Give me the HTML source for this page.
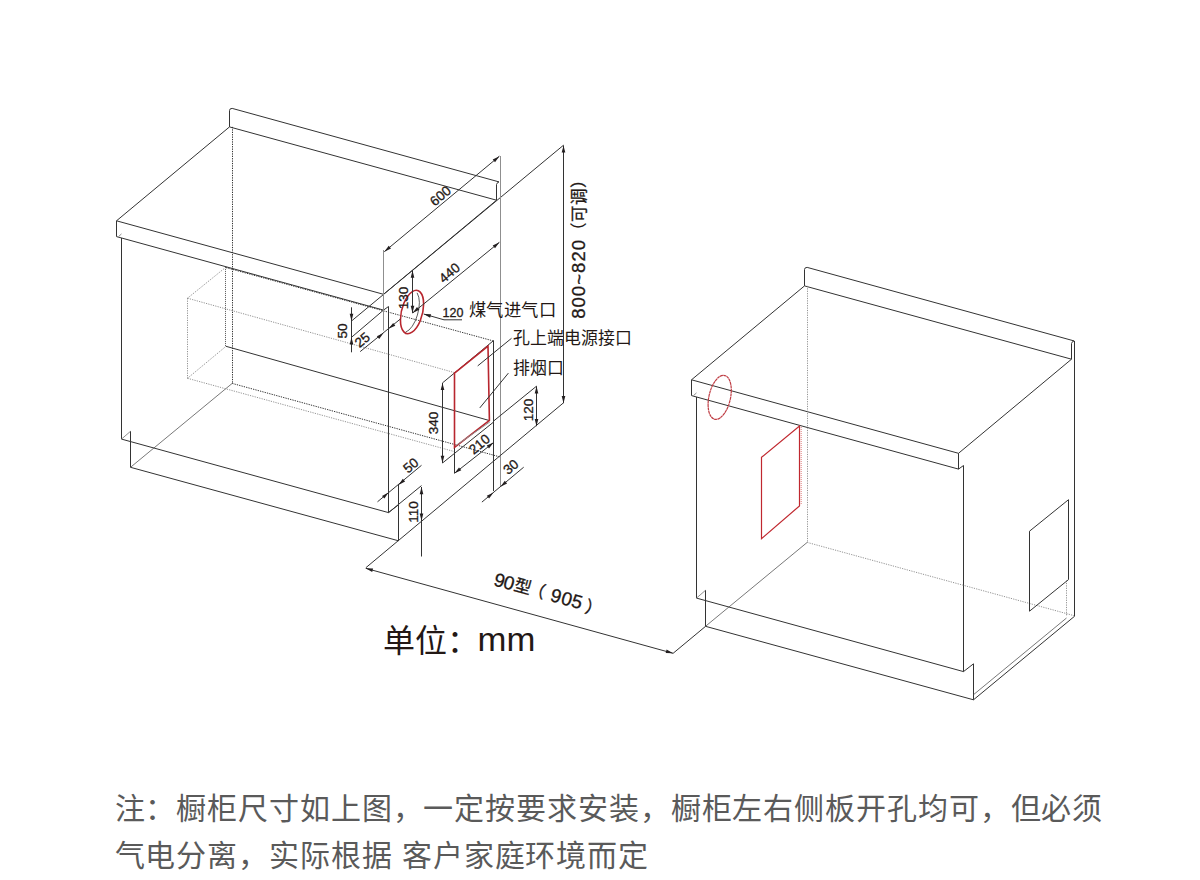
<!DOCTYPE html>
<html lang="zh-CN"><head><meta charset="utf-8"><style>
html,body{margin:0;padding:0;background:#fff;}
body{width:1200px;height:880px;overflow:hidden;position:relative;font-family:"Liberation Sans",sans-serif;}
svg{position:absolute;left:0;top:0;}
.k{stroke:#333;stroke-width:1;fill:none;}
.g{stroke:#8f8f8f;stroke-width:1;fill:none;}
.gl{stroke:#555;stroke-width:0.8;fill:none;}
.dd{stroke:#333;stroke-width:1;fill:none;stroke-dasharray:1.3 1.1;}
.ld{stroke:#777;stroke-width:0.8;fill:none;stroke-dasharray:1.2 1.2;}
.r{stroke:#b8262e;stroke-width:1.6;fill:none;}
.rd{stroke:#e08080;stroke-width:1;fill:none;stroke-dasharray:1 1;}
.rdd{stroke:#bf3d44;stroke-width:1.2;fill:none;stroke-dasharray:3 0.4;}
.r2{stroke:#c0282f;stroke-width:1.2;fill:none;}
.ldk{stroke:#555;stroke-width:1;fill:none;stroke-dasharray:1 1;}
.ah{fill:#231f20;stroke:none;}
text{font-family:"Liberation Sans",sans-serif;fill:#231815;}
.dt{stroke:#231815;stroke-width:0.3;}
.lb{fill:#231815;}
.big{fill:#231815;}
.note{position:absolute;left:114.5px;font-size:30px;color:#5a5a5a;white-space:nowrap;letter-spacing:0.9px;line-height:1;}
</style></head><body>
<svg width="1200" height="880" viewBox="0 0 1200 880">
<line class="k" x1="116.5" y1="220.8" x2="229.5" y2="126.9"/>
<line class="k" x1="116.5" y1="220.8" x2="383.5" y2="294.3"/>
<line class="k" x1="116.5" y1="236.6" x2="383.5" y2="310.1"/>
<line class="k" x1="116.5" y1="220.8" x2="116.5" y2="236.6"/>
<line class="k" x1="383.5" y1="294.3" x2="383.5" y2="310.1"/>
<line class="k" x1="229.5" y1="126.9" x2="496.5" y2="200.2"/>
<path class="k" d="M229.5,126.9 L229.5,110.6 Q229.5,108.3 232.2,108.4 L499.0,181.9"/>
<path class="k" d="M496.5,200.2 L496.5,184.5 Q497.2,182.2 499.0,181.9"/>
<line class="k" x1="383.5" y1="294.3" x2="496.5" y2="200.2"/>
<line class="k" x1="121.5" y1="238.0" x2="121.5" y2="439.1"/>
<line class="k" x1="388.5" y1="306.5" x2="388.5" y2="512.6"/>
<line class="k" x1="383.5" y1="310.1" x2="388.5" y2="306.5"/>
<line class="k" x1="121.5" y1="439.1" x2="388.5" y2="512.6"/>
<line class="g" x1="118.5" y1="236.6" x2="121.5" y2="233.9"/>
<line class="g" x1="121.5" y1="439.1" x2="130.5" y2="431.3"/>
<line class="k" x1="130.5" y1="431.3" x2="130.5" y2="467.3"/>
<line class="k" x1="388.5" y1="512.6" x2="398.5" y2="504.8"/>
<line class="k" x1="398.5" y1="504.8" x2="398.5" y2="540.8"/>
<line class="k" x1="130.5" y1="467.3" x2="398.5" y2="540.8"/>
<line class="gl" x1="130.5" y1="467.3" x2="232.2" y2="383.4"/>
<line class="dd" x1="232.5" y1="126.9" x2="232.5" y2="383.4"/>
<line class="dd" x1="232.2" y1="383.4" x2="499.5" y2="456.8"/>
<line class="k" x1="691.5" y1="379.8" x2="804.5" y2="285.9"/>
<line class="k" x1="691.5" y1="379.8" x2="958.5" y2="453.3"/>
<line class="k" x1="691.5" y1="395.6" x2="958.5" y2="469.1"/>
<line class="k" x1="691.5" y1="379.8" x2="691.5" y2="395.6"/>
<line class="k" x1="958.5" y1="453.3" x2="958.5" y2="469.1"/>
<line class="k" x1="804.5" y1="285.9" x2="1071.5" y2="359.2"/>
<path class="k" d="M804.5,285.9 L804.5,269.6 Q804.5,267.3 807.2,267.4 L1074.0,340.9"/>
<path class="k" d="M1071.5,359.2 L1071.5,343.5 Q1072.2,341.2 1074.0,340.9"/>
<line class="k" x1="958.5" y1="453.3" x2="1071.5" y2="359.2"/>
<line class="k" x1="696.5" y1="397.0" x2="696.5" y2="598.1"/>
<line class="k" x1="963.5" y1="465.5" x2="963.5" y2="671.6"/>
<line class="k" x1="958.5" y1="469.1" x2="963.5" y2="465.5"/>
<line class="k" x1="696.5" y1="598.1" x2="963.5" y2="671.6"/>
<line class="g" x1="693.5" y1="395.6" x2="696.5" y2="392.9"/>
<line class="g" x1="696.5" y1="598.1" x2="705.5" y2="590.3"/>
<line class="k" x1="705.5" y1="590.3" x2="705.5" y2="626.3"/>
<line class="k" x1="963.5" y1="671.6" x2="973.5" y2="663.8"/>
<line class="k" x1="973.5" y1="663.8" x2="973.5" y2="699.8"/>
<line class="k" x1="705.5" y1="626.3" x2="973.5" y2="699.8"/>
<line class="gl" x1="705.5" y1="626.3" x2="807.2" y2="542.4"/>
<line class="ld" x1="807.5" y1="285.9" x2="807.5" y2="542.4"/>
<line class="ld" x1="807.2" y1="542.4" x2="1074.5" y2="615.8"/>
<line class="k" x1="1074.5" y1="340.9" x2="1074.5" y2="616.3"/>
<line class="k" x1="973.5" y1="699.8" x2="1074.5" y2="616.3"/>
<line class="gl" x1="973.5" y1="694.7" x2="1066.5" y2="618.0"/>
<line class="ld" x1="1066.5" y1="580.5" x2="1066.5" y2="616.3"/>
<polyline class="k" points="1068.5,499.7 1029.5,531.2 1029.5,611.2 1068.5,579.6"/>
<line class="k" x1="1068.5" y1="499.7" x2="1068.5" y2="579.6"/>
<polygon class="r2" points="799.5,426.1 799.5,505.9 761.5,538.7 761.5,457.4"/>
<line class="rd" x1="801.2" y1="427.0" x2="801.2" y2="505.0"/>
<ellipse class="rdd" cx="0" cy="0" rx="11.6" ry="20.8" transform="matrix(1 -0.62 0 1 719.7 397.35)" vector-effect="non-scaling-stroke"/>
<line class="k" x1="351.5" y1="321.0" x2="563.5" y2="145.2"/>
<line class="k" x1="351.5" y1="337.3" x2="383.5" y2="310.1"/>
<line class="dd" x1="226.0" y1="267.6" x2="493.5" y2="341.0"/>
<line class="g" x1="383.5" y1="250.0" x2="383.5" y2="330.5"/>
<line class="g" x1="500.5" y1="156.0" x2="500.5" y2="486.8"/>
<line class="ld" x1="187.5" y1="298.2" x2="187.5" y2="378.3"/>
<line class="ld" x1="187.5" y1="298.2" x2="226.0" y2="267.1"/>
<line class="ld" x1="187.5" y1="378.3" x2="226.0" y2="346.3"/>
<line class="ldk" x1="225.5" y1="267.1" x2="225.5" y2="346.3"/>
<line class="ld" x1="187.5" y1="298.2" x2="454.5" y2="372.6"/>
<line class="ld" x1="187.5" y1="378.3" x2="454.5" y2="451.6"/>
<line class="k" x1="226.0" y1="346.3" x2="489.6" y2="420.6"/>
<line class="k" x1="442.5" y1="382.9" x2="493.5" y2="340.6"/>
<line class="k" x1="493.5" y1="340.6" x2="493.5" y2="491.0"/>
<line class="k" x1="442.5" y1="463.0" x2="493.5" y2="422.1"/>
<line class="k" x1="454.5" y1="447.4" x2="454.5" y2="473.3"/>
<polygon class="r" points="454.5,373.2 488.0,346.2 489.4,420.4 454.5,447.4"/>
<line class="g" x1="455.8" y1="445.6" x2="489.9" y2="421.9"/>
<ellipse class="r" cx="0" cy="0" rx="11.6" ry="20.2" transform="matrix(1 -0.68 0 1 412.05 312.0)" vector-effect="non-scaling-stroke"/>
<path class="k" d="M 9.5 -11.6 A 11.6 20.2 0 0 1 -2.0 19.9" transform="matrix(1 -0.68 0 1 407.6 310.9)" vector-effect="non-scaling-stroke" style="stroke-width:0.8;stroke:#333"/>
<line class="k" x1="366.0" y1="567.6" x2="563.5" y2="402.8"/>
<line class="k" x1="705.6" y1="626.3" x2="673.1" y2="653.3"/>
<line class="k" x1="384.3" y1="251.7" x2="499.4" y2="156.2"/>
<polygon class="ah" points="384.3,251.7 388.7,245.7 391.0,248.5"/>
<polygon class="ah" points="499.4,156.2 495.0,162.2 492.7,159.4"/>
<text class="dt" x="440.5" y="196.0" font-size="13.5" text-anchor="middle" dominant-baseline="central" transform="rotate(-39.7 440.5 196.0)">600</text>
<line class="k" x1="412.6" y1="313.0" x2="499.4" y2="242.3"/>
<polygon class="ah" points="412.6,313.0 417.0,307.1 419.3,309.8"/>
<polygon class="ah" points="499.4,242.3 495.0,248.2 492.7,245.5"/>
<text class="dt" x="449.5" y="273.0" font-size="13.5" text-anchor="middle" dominant-baseline="central" transform="rotate(-39.7 449.5 273.0)">440</text>
<line class="k" x1="412.5" y1="270.5" x2="412.5" y2="313.0"/>
<polygon class="ah" points="412.5,270.5 414.3,277.7 410.7,277.7"/>
<polygon class="ah" points="412.5,313.0 410.7,305.8 414.3,305.8"/>
<text class="dt" x="403.0" y="298.0" font-size="13.5" text-anchor="middle" dominant-baseline="central" transform="rotate(-90 403.0 298.0)">130</text>
<line class="k" x1="423.7" y1="314.0" x2="444.0" y2="319.8"/>
<line class="k" x1="444.0" y1="319.8" x2="462.0" y2="319.8"/>
<polygon class="ah" points="423.7,314.0 431.1,314.2 430.1,317.7"/>
<text class="dt" x="453.0" y="312.8" font-size="12.5" text-anchor="middle" dominant-baseline="central">120</text>
<text class="lb" x="469" y="309.5" font-size="17.3" letter-spacing="0.45" dominant-baseline="central">煤气进气口</text>
<line class="k" x1="351.5" y1="307.3" x2="351.5" y2="352.3"/>
<polygon class="ah" points="351.5,321.0 349.7,313.8 353.3,313.8"/>
<polygon class="ah" points="351.5,337.3 353.3,344.5 349.7,344.5"/>
<text class="dt" x="342.5" y="331.0" font-size="13.5" text-anchor="middle" dominant-baseline="central" transform="rotate(-90 342.5 331.0)">50</text>
<line class="k" x1="360.2" y1="351.6" x2="400.5" y2="318.9"/>
<polygon class="ah" points="383.5,332.9 379.2,338.9 376.9,336.2"/>
<polygon class="ah" points="388.5,328.7 393.2,322.9 395.3,325.8"/>
<text class="dt" x="362.3" y="340.0" font-size="13.5" text-anchor="middle" dominant-baseline="central" transform="rotate(-39.7 362.3 340.0)">25</text>
<line class="k" x1="442.5" y1="382.9" x2="442.5" y2="463.0"/>
<polygon class="ah" points="442.5,382.9 444.3,390.1 440.7,390.1"/>
<polygon class="ah" points="442.5,463.0 440.7,455.8 444.3,455.8"/>
<text class="dt" x="433.2" y="423.0" font-size="13.5" text-anchor="middle" dominant-baseline="central" transform="rotate(-90 433.2 423.0)">340</text>
<line class="k" x1="454.5" y1="473.3" x2="493.5" y2="442.6"/>
<polygon class="ah" points="454.5,473.3 459.0,467.4 461.3,470.3"/>
<polygon class="ah" points="493.5,442.6 489.0,448.5 486.7,445.6"/>
<text class="dt" x="479.5" y="444.3" font-size="13.5" text-anchor="middle" dominant-baseline="central" transform="rotate(-39.7 479.5 444.3)">210</text>
<line class="k" x1="536.5" y1="386.2" x2="536.5" y2="426.2"/>
<polygon class="ah" points="536.5,386.2 538.3,393.4 534.7,393.4"/>
<polygon class="ah" points="536.5,426.2 534.7,419.0 538.3,419.0"/>
<line class="k" x1="536.5" y1="386.2" x2="493.5" y2="421.1"/>
<text class="dt" x="528.8" y="410.0" font-size="13.5" text-anchor="middle" dominant-baseline="central" transform="rotate(-90 528.8 410.0)">120</text>
<line class="k" x1="481.9" y1="502.1" x2="523.7" y2="467.2"/>
<polygon class="ah" points="493.5,492.5 489.1,498.5 486.8,495.7"/>
<polygon class="ah" points="500.5,486.8 504.8,480.7 507.1,483.5"/>
<text class="dt" x="511.0" y="467.0" font-size="13.5" text-anchor="middle" dominant-baseline="central" transform="rotate(-39.7 511.0 467.0)">30</text>
<line class="k" x1="377.5" y1="501.8" x2="421.5" y2="465.3"/>
<polygon class="ah" points="388.5,492.4 384.4,498.6 382.0,496.0"/>
<polygon class="ah" points="398.5,484.9 402.8,478.8 405.1,481.6"/>
<text class="dt" x="411.0" y="465.5" font-size="13.5" text-anchor="middle" dominant-baseline="central" transform="rotate(-39.7 411.0 465.5)">50</text>
<line class="k" x1="398.5" y1="484.0" x2="398.5" y2="504.8"/>
<line class="k" x1="388.5" y1="512.6" x2="421.5" y2="485.6"/>
<line class="k" x1="421.5" y1="487.0" x2="421.5" y2="556.5"/>
<polygon class="ah" points="421.5,487.0 423.3,494.2 419.7,494.2"/>
<polygon class="ah" points="421.5,520.7 419.7,513.5 423.3,513.5"/>
<text class="dt" x="413.1" y="512.0" font-size="13.5" text-anchor="middle" dominant-baseline="central" transform="rotate(-90 413.1 512.0)">110</text>
<line class="k" x1="563.5" y1="145.4" x2="563.5" y2="403.2"/>
<polygon class="ah" points="563.5,145.4 565.3,152.6 561.7,152.6"/>
<polygon class="ah" points="563.5,403.2 561.7,396.0 565.3,396.0"/>
<text class="dt" x="585.1" y="318.8" transform="rotate(-90 585.1 318.8)"><tspan font-size="18.5" letter-spacing="1.05">800~820</tspan><tspan font-size="16.5">（可调）</tspan></text>
<line class="k" x1="365.7" y1="568.3" x2="673.1" y2="653.3"/>
<polygon class="ah" points="365.7,568.3 373.1,568.5 372.2,572.0"/>
<polygon class="ah" points="673.1,653.3 665.7,653.1 666.6,649.6"/>
<g transform="translate(499.75,580) rotate(15.45)"><text class="dt" font-size="19" text-anchor="middle" y="6.8"><tspan x="0">9</tspan><tspan x="9.8">0</tspan><tspan x="58.55">9</tspan><tspan x="69.6">0</tspan><tspan x="80.4">5</tspan></text><text class="dt" font-size="17" text-anchor="middle" y="6.4"><tspan x="24.03">型</tspan><tspan x="38.6">（</tspan><tspan x="98.2" dy="1.5">）</tspan></text></g>
<line class="k" x1="511.5" y1="338.3" x2="477.7" y2="365.9"/>
<line class="k" x1="508.4" y1="373.1" x2="479.8" y2="407.9"/>
<text class="lb" x="513.0" y="338.5" font-size="16.9" text-anchor="start" dominant-baseline="central">孔上端电源接口</text>
<text class="lb" x="513.0" y="368.0" font-size="16.9" text-anchor="start" dominant-baseline="central">排烟口</text>
<text class="big" x="383" y="652" font-size="32">单位：</text><text class="big" font-size="32.3" transform="translate(477.6,650.6) scale(1.075,1)">mm</text>
</svg>
<div class="note" style="top:794px">注：橱柜尺寸如上图，一定按要求安装，橱柜左右侧板开孔均可，但必须</div>
<div class="note" style="top:841px">气电分离，实际根据 客户家庭环境而定</div>
</body></html>
